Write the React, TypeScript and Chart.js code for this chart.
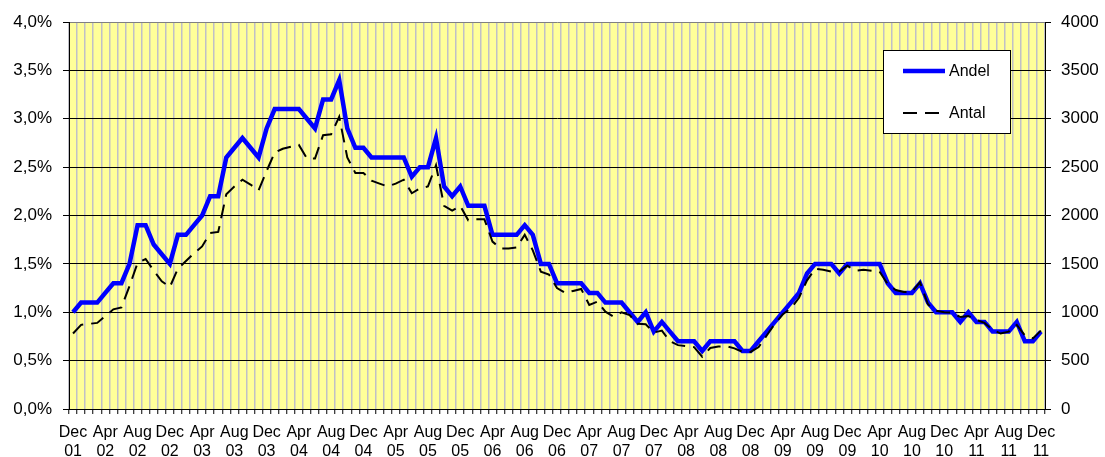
import { useEffect, useRef } from 'react';
import { Chart, registerables } from 'chart.js';

Chart.register(...registerables);

// Categories: monthly, Dec 2001 .. Dec 2011
const MONTH_NAMES = ['Jan', 'Feb', 'Mar', 'Apr', 'May', 'Jun', 'Jul', 'Aug', 'Sep', 'Oct', 'Nov', 'Dec'];
const START_MONTH = 11; // Dec
const START_YEAR = 2001;
const N_MONTHS = 121;
const categories: string[][] = [];
for (let i = 0; i < N_MONTHS; i++) {
  const m = (START_MONTH + i) % 12;
  const y = START_YEAR + Math.floor((START_MONTH + i) / 12);
  categories.push([MONTH_NAMES[m], String(y % 100).padStart(2, '0')]);
}

// Andel (%)
const andel = [
  1.0, 1.1, 1.1, 1.1, 1.2, 1.3, 1.3, 1.5, 1.9, 1.9, 1.7, 1.6,
  1.5, 1.8, 1.8, 1.9, 2.0, 2.2, 2.2, 2.6, 2.7, 2.8, 2.7, 2.6,
  2.9, 3.1, 3.1, 3.1, 3.1, 3.0, 2.9, 3.2, 3.2, 3.4, 2.9, 2.7,
  2.7, 2.6, 2.6, 2.6, 2.6, 2.6, 2.4, 2.5, 2.5, 2.8, 2.3, 2.2,
  2.3, 2.1, 2.1, 2.1, 1.8, 1.8, 1.8, 1.8, 1.9, 1.8, 1.5, 1.5,
  1.3, 1.3, 1.3, 1.3, 1.2, 1.2, 1.1, 1.1, 1.1, 1.0, 0.9, 1.0,
  0.8, 0.9, 0.8, 0.7, 0.7, 0.7, 0.6, 0.7, 0.7, 0.7, 0.7, 0.6,
  0.6, 0.7, 0.8, 0.9, 1.0, 1.1, 1.2, 1.4, 1.5, 1.5, 1.5, 1.4,
  1.5, 1.5, 1.5, 1.5, 1.5, 1.3, 1.2, 1.2, 1.2, 1.3, 1.1, 1.0,
  1.0, 1.0, 0.9, 1.0, 0.9, 0.9, 0.8, 0.8, 0.8, 0.9, 0.7, 0.7,
  0.8,
];

// Antal (count)
const antal = [
  780, 870, 880, 890, 960, 1030, 1050, 1270, 1510, 1550, 1430, 1320,
  1260, 1450, 1530, 1610, 1680, 1820, 1830, 2220, 2300, 2370, 2320, 2260,
  2460, 2650, 2690, 2710, 2730, 2590, 2590, 2830, 2840, 3020, 2600, 2440,
  2440, 2360, 2330, 2300, 2330, 2370, 2230, 2280, 2300, 2520, 2100, 2050,
  2100, 1950, 1960, 1960, 1730, 1660, 1660, 1670, 1800, 1640, 1420, 1390,
  1250, 1200, 1220, 1240, 1075, 1110, 1006, 954, 1000, 970, 880, 875,
  790, 810, 700, 660, 650, 640, 540, 630, 645, 650, 627, 590,
  590, 640, 760, 880, 980, 1040, 1150, 1330, 1450, 1440, 1420, 1420,
  1480, 1430, 1440, 1430, 1420, 1290, 1230, 1210, 1210, 1310, 1080, 1015,
  1000, 995, 950, 960, 920, 890, 820, 780, 800, 870, 760, 730,
  810,
];

const leftTicks = [0, 0.5, 1, 1.5, 2, 2.5, 3, 3.5, 4];
const rightTicks = [0, 500, 1000, 1500, 2000, 2500, 3000, 3500, 4000];

const FONT = "'Liberation Sans', Arial, sans-serif";

const bgPlugin = {
  id: 'plotBg',
  beforeDraw(chart: any) {
    const { ctx, chartArea } = chart;
    ctx.save();
    ctx.fillStyle = '#FFFF99';
    ctx.fillRect(chartArea.left, chartArea.top, chartArea.right - chartArea.left, chartArea.bottom - chartArea.top);
    ctx.restore();
  },
};

const legendPlugin = {
  id: 'boxLegend',
  afterDraw(chart: any) {
    const { ctx } = chart;
    const x = 883, y = 50, w = 127, h = 83;
    ctx.save();
    ctx.fillStyle = '#fff';
    ctx.fillRect(x, y, w, h);
    ctx.strokeStyle = '#000';
    ctx.lineWidth = 1;
    ctx.strokeRect(x + 0.5, y + 0.5, w, h);
    const ds = chart.data.datasets;
    const rows = [
      { d: ds.find((d: any) => d.label === 'Andel'), yy: 71 },
      { d: ds.find((d: any) => d.label === 'Antal'), yy: 113 },
    ];
    ctx.font = `16px ${FONT}`;
    ctx.textBaseline = 'middle';
    for (const r of rows) {
      ctx.beginPath();
      ctx.strokeStyle = r.d.borderColor;
      ctx.lineWidth = r.d.borderWidth;
      ctx.setLineDash(r.d.borderDash || []);
      ctx.moveTo(903, r.yy);
      ctx.lineTo(945, r.yy);
      ctx.stroke();
      ctx.setLineDash([]);
      ctx.fillStyle = '#000';
      ctx.fillText(r.d.label, 949, r.yy + 1);
    }
    ctx.restore();
  },
};

export default function App() {
  const ref = useRef<HTMLCanvasElement | null>(null);

  useEffect(() => {
    if (!ref.current) return;
    Chart.defaults.font.family = FONT;
    const chart = new Chart(ref.current, {
      type: 'line',
      data: {
        labels: categories.map((c) => c.join(' ')),
        datasets: [
          {
            label: 'Antal',
            data: antal,
            yAxisID: 'y1',
            borderColor: '#000000',
            borderWidth: 2,
            borderDash: [14, 8],
            pointRadius: 0,
            tension: 0,
            fill: false,
            order: 1,
          },
          {
            label: 'Andel',
            data: andel,
            yAxisID: 'y',
            borderColor: '#0000FF',
            borderWidth: 4.5,
            pointRadius: 0,
            tension: 0,
            fill: false,
            order: 2,
          },
        ],
      },
      options: {
        responsive: false,
        animation: false,
        devicePixelRatio: 1,
        layout: { padding: { top: 22, left: 0, right: 0, bottom: 0 } },
        plugins: {
          legend: { display: false },
          tooltip: { enabled: false },
        },
        scales: {
          x: {
            type: 'category',
            offset: true,
            grid: {
              offset: true,
              color: '#c0c0c8',
              lineWidth: 1.5,
              drawTicks: true,
              tickLength: 5,
              tickColor: '#000',
              tickWidth: 1,
            },
            border: { color: '#000', width: 1 },
            ticks: {
              autoSkip: false,
              maxRotation: 0,
              minRotation: 0,
              padding: 9,
              color: '#000',
              font: { size: 16, family: FONT, lineHeight: 1.2 },
              callback: (_v: any, i: number) => (i % 4 === 0 ? categories[i] : ''),
            },
            afterFit: (s: any) => {
              s.height = 48;
            },
          },
          y: {
            position: 'left',
            min: 0,
            max: 4,
            afterBuildTicks: (s: any) => {
              s.ticks = leftTicks.map((v) => ({ value: v }));
            },
            ticks: {
              padding: 11,
              color: '#000',
              font: { size: 17, family: FONT },
              callback: (v: any) => Number(v).toFixed(1).replace('.', ',') + '%',
            },
            grid: {
              color: (c: any) => (c.tick && c.tick.value === 4 ? '#808080' : '#000000'),
              lineWidth: 1,
              tickLength: 6,
              tickColor: '#000',
            },
            border: { color: '#000', width: 1 },
            afterFit: (s: any) => {
              s.width = 69;
            },
          },
          y1: {
            position: 'right',
            min: 0,
            max: 4000,
            afterBuildTicks: (s: any) => {
              s.ticks = rightTicks.map((v) => ({ value: v }));
            },
            ticks: {
              padding: 10,
              color: '#000',
              font: { size: 17, family: FONT },
              callback: (v: any) => String(v),
            },
            grid: {
              drawOnChartArea: false,
              tickLength: 6,
              tickColor: '#000',
            },
            border: { color: '#000', width: 1 },
            afterFit: (s: any) => {
              s.width = 60;
            },
          },
        },
      },
      plugins: [bgPlugin, legendPlugin],
    } as any);
    return () => chart.destroy();
  }, []);

  return (
    <div style={{ position: 'absolute', left: 0, top: 0, width: 1105, height: 457, background: '#fff' }}>
      <canvas ref={ref} width={1105} height={457} style={{ display: 'block' }} />
    </div>
  );
}
